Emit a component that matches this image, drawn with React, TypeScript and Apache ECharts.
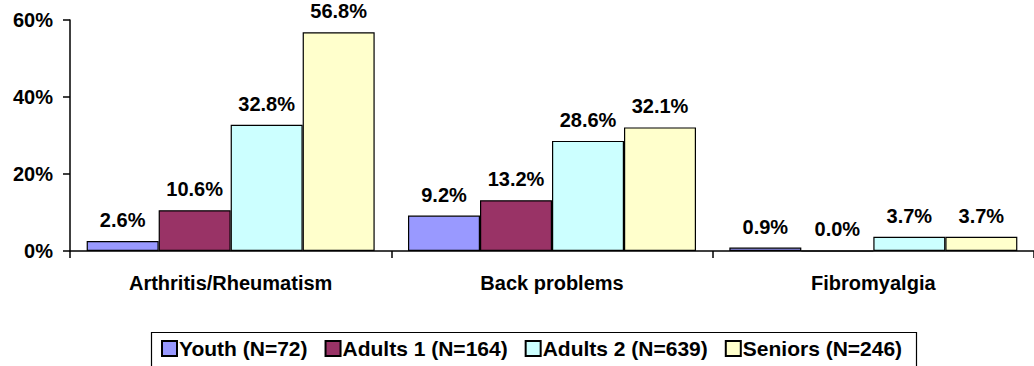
import React, { useEffect, useRef } from "react";
import * as echarts from "echarts";

const categories = ["Arthritis/Rheumatism", "Back problems", "Fibromyalgia"];
const seriesNames = ["Youth (N=72)", "Adults 1 (N=164)", "Adults 2 (N=639)", "Seniors (N=246)"];
const youth = [2.6, 9.2, 0.9];
const adults1 = [10.6, 13.2, 0.0];
const adults2 = [32.8, 28.6, 3.7];
const seniors = [56.8, 32.1, 3.7];
const colors = ["#9999FF", "#993366", "#CCFFFF", "#FFFFCC"];
const yTicks = [0, 20, 40, 60];

const FONT = "'Liberation Sans', Arial, sans-serif";

export default function App() {
  const ref = useRef<HTMLDivElement>(null);
  useEffect(() => {
    if (!ref.current) return;
    const chart = echarts.init(ref.current, undefined, { renderer: "svg" });
    const data = [youth, adults1, adults2, seniors];
    chart.setOption({
      animation: false,
      backgroundColor: "#ffffff",
      textStyle: { fontFamily: FONT },
      grid: { left: 70, top: 20, right: -6, height: 231, containLabel: false },
      legend: {
        left: 156,
        top: 333,
        itemWidth: 15,
        itemHeight: 15,
        itemGap: 17,
        icon: "rect",
        textStyle: {
          fontFamily: FONT,
          fontWeight: "bold",
          fontSize: 21,
          color: "#000",
          padding: [0, 0, 0, -3],
        },
        data: seriesNames,
      },
      xAxis: {
        type: "category",
        data: categories,
        axisLine: { lineStyle: { color: "#000", width: 1.5 } },
        axisTick: { show: true, length: 7, lineStyle: { color: "#000", width: 1.5 } },
        axisLabel: {
          fontFamily: FONT,
          fontWeight: "bold",
          fontSize: 20,
          color: "#000",
          margin: 22,
        },
      },
      yAxis: {
        type: "value",
        min: yTicks[0],
        max: yTicks[yTicks.length - 1],
        interval: 20,
        splitLine: { show: false },
        axisLine: { show: true, lineStyle: { color: "#000", width: 1.5 } },
        axisTick: { show: true, length: 7, lineStyle: { color: "#000", width: 1.5 } },
        axisLabel: {
          fontFamily: FONT,
          fontWeight: "bold",
          fontSize: 20,
          color: "#000",
          margin: 17,
          formatter: "{value}%",
        },
      },
      series: seriesNames.map((name, i) => ({
        name,
        type: "bar",
        data: data[i],
        barWidth: 72,
        barGap: "0%",
        itemStyle: { color: colors[i], borderColor: "#000", borderWidth: 1.2 },
        label: {
          show: true,
          position: "top",
          distance: 11,
          fontFamily: FONT,
          fontWeight: "bold",
          fontSize: 20,
          color: "#000",
          formatter: (p: any) => Number(p.value).toFixed(1) + "%",
        },
      })),
      graphic: [
        {
          type: "rect",
          left: 149,
          top: 330,
          shape: { width: 765, height: 50 },
          style: { fill: "none", stroke: "#000", lineWidth: 1.2 },
          z: -1,
        },
      ],
    });
    return () => chart.dispose();
  }, []);
  return (
    <div
      ref={ref}
      style={{ position: "fixed", left: 0, top: 0, width: 1034, height: 366 }}
    />
  );
}
